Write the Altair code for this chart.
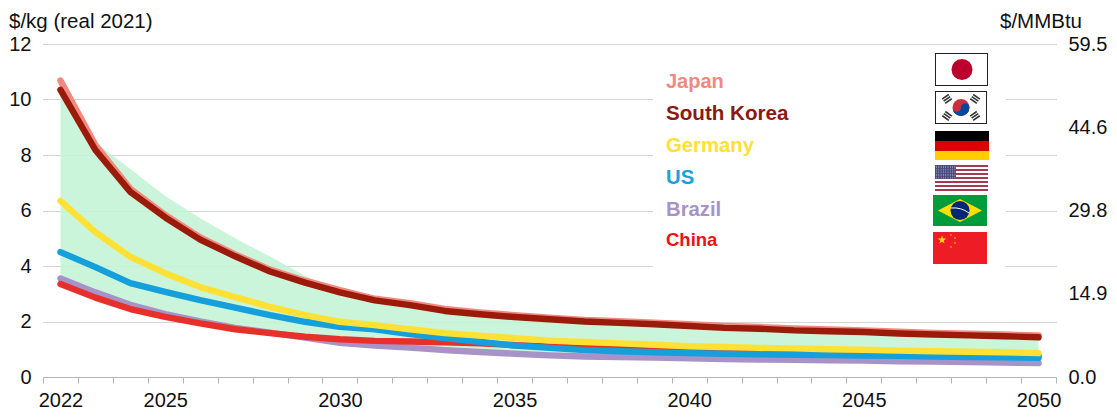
import base64
import math
import altair as alt
import pandas as pd

YEARS = list(range(2022, 2051))
JAPAN = [10.68, 8.36, 6.78, 5.84, 5.03, 4.42, 3.87, 3.47, 3.13, 2.82, 2.66, 2.45, 2.33, 2.23, 2.14, 2.06, 2.01, 1.96, 1.90, 1.84, 1.80, 1.75, 1.71, 1.68, 1.63, 1.59, 1.56, 1.53, 1.50]
KOREA = [10.35, 8.18, 6.67, 5.75, 4.95, 4.35, 3.80, 3.40, 3.05, 2.76, 2.59, 2.38, 2.26, 2.16, 2.08, 2.00, 1.95, 1.90, 1.84, 1.77, 1.74, 1.68, 1.65, 1.62, 1.57, 1.53, 1.50, 1.47, 1.43]
GERMANY = [6.35, 5.22, 4.33, 3.74, 3.24, 2.88, 2.53, 2.23, 1.99, 1.87, 1.72, 1.58, 1.49, 1.40, 1.31, 1.26, 1.21, 1.16, 1.11, 1.08, 1.05, 1.03, 1.00, 0.98, 0.95, 0.93, 0.91, 0.89, 0.86]
US = [4.50, 3.96, 3.38, 3.07, 2.77, 2.50, 2.23, 1.99, 1.81, 1.72, 1.55, 1.40, 1.27, 1.13, 1.05, 0.97, 0.93, 0.89, 0.86, 0.84, 0.82, 0.80, 0.79, 0.77, 0.76, 0.74, 0.72, 0.71, 0.69]
BRAZIL = [3.55, 3.05, 2.60, 2.27, 2.00, 1.77, 1.60, 1.42, 1.23, 1.13, 1.06, 0.97, 0.90, 0.84, 0.78, 0.74, 0.72, 0.70, 0.67, 0.65, 0.63, 0.62, 0.60, 0.59, 0.57, 0.56, 0.54, 0.52, 0.50]
CHINA = [3.35, 2.86, 2.45, 2.17, 1.93, 1.72, 1.58, 1.45, 1.36, 1.30, 1.28, 1.25, 1.21, 1.15, 1.10, 1.05, 1.02, 1.00, 0.97, 0.95, 0.93, 0.91, 0.89, 0.87, 0.85, 0.83, 0.80, 0.78, 0.75]
BAND_TOP = [10.35, 8.45, 7.50, 6.52, 5.72, 5.00, 4.34, 3.65, 3.13, 2.82, 2.66, 2.45, 2.33, 2.23, 2.14, 2.06, 2.01, 1.96, 1.90, 1.84, 1.80, 1.75, 1.71, 1.68, 1.63, 1.59, 1.56, 1.53, 1.50]
BAND_LOW = [3.35, 2.86, 2.45, 2.17, 1.93, 1.72, 1.58, 1.42, 1.23, 1.13, 1.06, 0.97, 0.90, 0.84, 0.78, 0.74, 0.72, 0.70, 0.67, 0.65, 0.63, 0.62, 0.60, 0.59, 0.57, 0.56, 0.54, 0.52, 0.50]
Y_TICKS = [0, 2, 4, 6, 8, 10, 12]
Y2_TICKS = [0.0, 14.9, 29.8, 44.6, 59.5]
X_LABELS = [2022, 2025, 2030, 2035, 2040, 2045, 2050]

FONT = "Liberation Sans"


def svg_uri(body, w, h):
    s = f'<svg xmlns="http://www.w3.org/2000/svg" viewBox="0 0 {w} {h}" preserveAspectRatio="none">{body}</svg>'
    return "data:image/svg+xml;base64," + base64.b64encode(s.encode()).decode()


jp = svg_uri('<rect x="0.5" y="0.5" width="52" height="32" fill="#fff" stroke="#222" stroke-width="1"/><circle cx="27" cy="16.5" r="10.5" fill="#BC002D"/>', 53, 33)


def bars(cx, cy, ang):
    return "".join(
        f'<rect x="{cx - 4}" y="{cy - 3.5 + i * 2.6}" width="8" height="1.6" fill="#333" transform="rotate({ang} {cx} {cy})"/>'
        for i in range(3)
    )


kr = svg_uri(
    '<rect x="0.5" y="0.5" width="51" height="32" fill="#fff" stroke="#222" stroke-width="1"/>'
    '<circle cx="26" cy="16.5" r="8.5" fill="#CD2E3A"/>'
    '<path d="M17.5 16.5 a8.5 8.5 0 0 0 17 0 a4.25 4.25 0 0 0 -8.5 0 a4.25 4.25 0 0 1 -8.5 0z" fill="#0047A0"/>'
    + bars(12, 8, -35) + bars(40, 8, 35) + bars(12, 25, 35) + bars(40, 25, -35), 52, 33)
de = svg_uri('<rect width="54" height="10" fill="#000"/><rect y="10" width="54" height="10" fill="#DD0000"/><rect y="20" width="54" height="9" fill="#FFCE00"/>', 54, 29)
stripes = "".join(
    f'<rect y="{i * 2:.0f}" width="53" height="2" fill="{"#A6384F" if i % 2 == 0 else "#fff"}"/>' for i in range(13)
)
dots = "".join(
    f'<circle cx="{1.5 + c * 2.3:.1f}" cy="{1.2 + r * 1.6:.1f}" r="0.45" fill="#ddd"/>' for r in range(9) for c in range(9)
)
us = svg_uri(stripes + '<rect width="21" height="14" fill="#4A4A80"/>' + dots, 53, 26)
br = svg_uri(
    '<rect width="54" height="31" fill="#009B3A"/><polygon points="5,15.5 27,4 49,15.5 27,27" fill="#FEDF00"/>'
    '<circle cx="27" cy="15.5" r="9.5" fill="#002776"/><path d="M18 13 Q28 12 36 18" stroke="#fff" stroke-width="1" fill="none"/>', 54, 31)


def star(cx, cy, r):
    pts = []
    for i in range(10):
        a = -math.pi / 2 + i * math.pi / 5
        rr = r if i % 2 == 0 else r * 0.4
        pts.append(f"{cx + rr * math.cos(a):.1f},{cy + rr * math.sin(a):.1f}")
    return f'<polygon points="{" ".join(pts)}" fill="#FFDE00"/>'


cn = svg_uri('<rect width="54" height="32" fill="#EE1C25"/>' + star(9, 8, 4.5) + star(18, 3, 1.2) + star(22, 6, 1.2) + star(22, 11, 1.2) + star(18, 15, 1.2), 54, 32)

df = pd.DataFrame({
    "year": YEARS, "Japan": JAPAN, "Korea": KOREA, "Germany": GERMANY, "US": US,
    "Brazil": BRAZIL, "China": CHINA, "top": BAND_TOP, "low": BAND_LOW,
})

x_ticks = [y - 0.5 for y in YEARS] + [YEARS[-1] + 0.5]
label_test = "+".join(f"(datum.value+0.5=={y})" for y in X_LABELS)
X = alt.X(
    "year:Q",
    scale=alt.Scale(domain=[2021.5, 2050.5], nice=False, zero=False),
    axis=alt.Axis(
        values=x_ticks, title=None, grid=False, labelExpr=f"({label_test})>0 ? toString(datum.value+0.5) : ''",
        labelOffset=17.46, labelOverlap=False, labelFlush=False, labelFontSize=20, labelFont=FONT, labelColor="#111",
        labelPadding=7, tickSize=6, tickColor="#b4b4b4", domainColor="#b4b4b4", tickWidth=1, domainWidth=1,
    ),
)
YS = alt.Scale(domain=[0, 12], nice=False)

base = alt.Chart(df)
area = base.mark_area(color="#C4F4D6", opacity=0.88).encode(
    x=X,
    y=alt.Y(
        "top:Q", scale=YS,
        axis=alt.Axis(
            values=Y_TICKS, title=None, domain=False, ticks=False, grid=True, gridColor="#a8a8a8", gridDash=[1, 1],
            gridWidth=1, labelFontSize=20, labelFont=FONT, labelColor="#111", labelPadding=12,
        ),
    ),
    y2="low:Q",
)

right_axis = base.mark_line(opacity=0).encode(
    x=X,
    y=alt.Y(
        "Korea:Q", scale=alt.Scale(domain=[0, 59.5], nice=False),
        axis=alt.Axis(
            orient="right", values=Y2_TICKS, format=".1f", title=None, domain=False, ticks=False, grid=False,
            labelFontSize=20, labelFont=FONT, labelColor="#111", labelPadding=12, labelOverlap=False,
        ),
    ),
)

legend_mask = alt.Chart(alt.Data(values=[{}])).mark_rect(color="#ffffff").encode(
    x=alt.value(610), x2=alt.value(963), y=alt.value(6), y2=alt.value(226)
)

SERIES = [
    ("Japan", "#F08A80"), ("Korea", "#9B1A0A"), ("Brazil", "#A893C8"),
    ("China", "#E8302A"), ("US", "#15A0DC"), ("Germany", "#FFE135"),
]
lines = [
    base.mark_line(color=c, strokeWidth=6.4, strokeCap="round", strokeJoin="round").encode(
        x=X, y=alt.Y(f"{name}:Q", scale=YS, axis=None)
    )
    for name, c in SERIES
]

LEGEND = [
    ("Japan", "#F08A80", 20, 44), ("South Korea", "#8B1A10", 20.6, 76), ("Germany", "#FFE135", 20.3, 108),
    ("US", "#1CA0DA", 20.3, 140), ("Brazil", "#A893C8", 20.3, 172), ("China", "#EE1111", 18.5, 202),
]
legend = [
    alt.Chart(alt.Data(values=[{}])).mark_text(
        text=t, color=c, fontSize=s, fontWeight="bold", font=FONT, align="left", baseline="alphabetic"
    ).encode(x=alt.value(623), y=alt.value(yy))
    for t, c, s, yy in LEGEND
]

FLAGS = [
    (jp, 892, 9, 53, 33), (kr, 892, 47, 52, 33), (de, 892, 87, 54, 29),
    (us, 892, 121, 53, 26), (br, 890, 151, 54, 31), (cn, 890, 188, 54, 32),
]
flags = [
    alt.Chart(alt.Data(values=[{}])).mark_image(
        url=u, width=w, height=h, aspect=False, align="left", baseline="top"
    ).encode(x=alt.value(xx), y=alt.value(yy))
    for u, xx, yy, w, h in FLAGS
]

units = [
    alt.Chart(alt.Data(values=[{}])).mark_text(
        text=t, color="#111", fontSize=20.5, font=FONT, align="left", baseline="alphabetic"
    ).encode(x=alt.value(xx), y=alt.value(-16))
    for t, xx in [("$/kg (real 2021)", -34), ("$/MMBtu", 957)]
]

chart = alt.layer(
    area, right_axis, legend_mask, *lines, *legend, *flags, *units
).resolve_scale(y="independent").properties(
    width=1013, height=333, padding={"left": 35, "top": 36, "right": 53, "bottom": 40},
    autosize=alt.AutoSizeParams(type="none"),
).configure_view(stroke=None)

chart.save("out.html", embed_options={"renderer": "svg", "actions": False})
